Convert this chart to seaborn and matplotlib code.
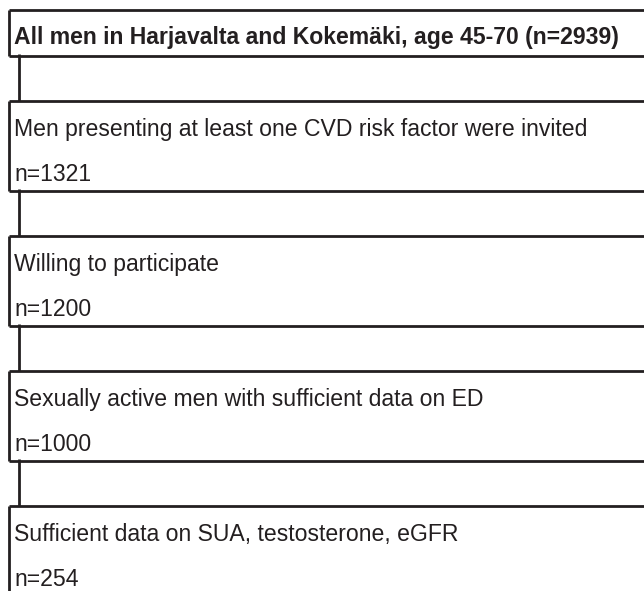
"""
Flow chart of study participants (Harjavalta / Kokemäki cohort)
"""

import matplotlib
matplotlib.use('Agg')
import matplotlib.pyplot as plt
import seaborn as sns

# Data
header_label = 'All men in Harjavalta and Kokemäki, age 45-70'
header_n = 2939
step_labels = [
    'Men presenting at least one CVD risk factor were invited',
    'Willing to participate',
    'Sexually active men with sufficient data on ED',
    'Sufficient data on SUA, testosterone, eGFR',
]
step_n = [1321, 1200, 1000, 254]

# Style
sns.set_theme(style='white')
plt.rcParams['font.family'] = ['Liberation Sans', 'DejaVu Sans']
ink = '#231f20'
lw = 2.0

W, H = 644, 591
fig = plt.figure(figsize=(W / 100, H / 100), dpi=100)
ax = fig.add_axes([0, 0, 1, 1])
ax.set_xlim(0, W)
ax.set_ylim(H, 0)
ax.axis('off')

left = 9
conn_x = 19
text_x = 14
fs = 16.6

# header box
top, bottom = 10, 56
ax.hlines([top, bottom], left, W + 5, color=ink, lw=lw)
ax.vlines(left, top, bottom, color=ink, lw=lw)
ax.text(text_x, top + 34, f'{header_label} (n={header_n})', fontsize=fs,
        fontweight='bold', color=ink, va='baseline', ha='left')

prev_bottom = bottom
for i, (label, n) in enumerate(zip(step_labels, step_n)):
    top = 101 + i * 135
    last = i == len(step_labels) - 1
    bottom = H + 5 if last else top + 90

    # connector from previous box
    ax.vlines(conn_x, prev_bottom - 2, top, color=ink, lw=lw)

    lines_y = [top] if last else [top, bottom]
    ax.hlines(lines_y, left, W + 5, color=ink, lw=lw)
    ax.vlines(left, top, bottom, color=ink, lw=lw)

    ax.text(text_x, top + 35, label, fontsize=fs, color=ink,
            va='baseline', ha='left')
    ax.text(text_x, top + 80, f'n={n}', fontsize=fs, color=ink,
            va='baseline', ha='left')
    prev_bottom = bottom

fig.savefig('out.png', dpi=100)
